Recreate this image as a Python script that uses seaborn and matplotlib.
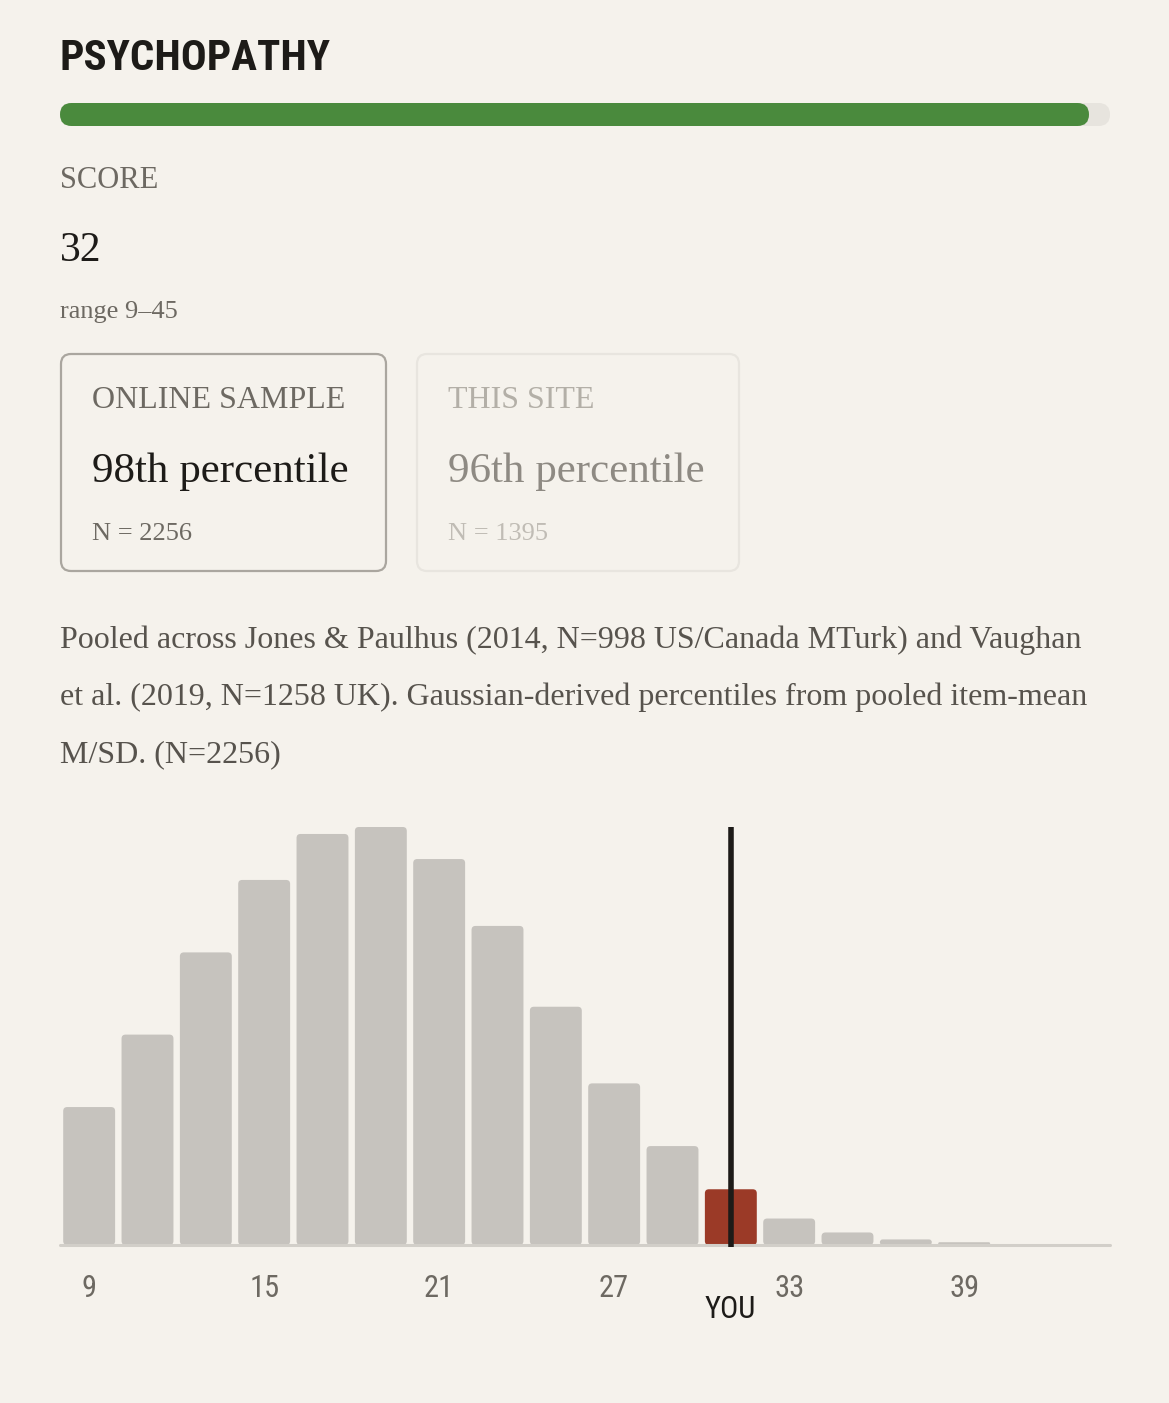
import pandas as pd
import matplotlib
matplotlib.use("Agg")
import matplotlib.pyplot as plt
import seaborn as sns
from matplotlib import font_manager
from matplotlib.patches import FancyBboxPatch


# data
bin_starts = [9, 11, 13, 15, 17, 19, 21, 23, 25, 27, 29, 31, 33, 35, 37, 39, 41, 43]
counts = [99, 151, 210, 262, 295, 300, 277, 229, 171, 116, 71, 40, 19, 9, 4, 2, 0, 0]
tick_values = [9, 15, 21, 27, 33, 39]
user_score = 32
user_bin = 31
percentile_online = 98
percentile_site = 96
n_online = 2256
n_site = 1395
paragraph = [
    "Pooled across Jones & Paulhus (2014, N=998 US/Canada MTurk) and Vaughan",
    "et al. (2019, N=1258 UK). Gaussian-derived percentiles from pooled item-mean",
    "M/SD. (N=2256)",
]

BG = "#f5f2ec"
INK = "#1d1b18"
MUTED = "#6d6962"
BAR = "#c6c3be"
RED = "#9b3a27"
GREEN = "#4a8a3d"

sns.set_theme(style="white")

# pick a narrow sans for the condensed headings if one is around
names = {f.name for f in font_manager.fontManager.ttflist}
cond_family = "DejaVu Sans"
for cand in ["Liberation Sans Narrow", "Roboto Condensed", "Open Sans Condensed", "DejaVu Sans"]:
    if cand in names:
        cond_family = cand
        break
COND = dict(family=cond_family, stretch="condensed")
SERIF = dict(family="Liberation Serif")

plt.rcParams["font.family"] = ["Liberation Serif", "DejaVu Sans"]


#---------------------------------------------------------------------------------------------
fig = plt.figure(figsize=(11.69, 14.03), dpi=100, facecolor=BG)

# pixel-space overlay for the card parts
ov = fig.add_axes([0, 0, 1, 1])
ov.set_xlim(0, 1169)
ov.set_ylim(1403, 0)
ov.axis("off")
ov.set_facecolor(BG)

ov.text(60, 70, "PSYCHOPATHY", fontsize=31, fontweight="bold", color=INK, va="baseline", **COND)

ov.add_patch(FancyBboxPatch((60, 103), 1050, 23, boxstyle="round,pad=0,rounding_size=11.5",
                            fc="#e7e4de", ec="none"))
ov.add_patch(FancyBboxPatch((60, 103), 1050 * percentile_online / 100, 23,
                            boxstyle="round,pad=0,rounding_size=11.5", fc=GREEN, ec="none"))

ov.text(60, 188, "SCORE", fontsize=22, color=MUTED, va="baseline", **SERIF)
ov.text(60, 261, str(user_score), fontsize=30, color=INK, va="baseline", **SERIF)
ov.text(60, 318, "range 9\u201345", fontsize=19, color=MUTED, va="baseline", **SERIF)

# percentile boxes
ov.add_patch(FancyBboxPatch((61, 354), 325, 217, boxstyle="round,pad=0,rounding_size=10",
                            fc="none", ec="#aaa69f", lw=1.6))
ov.add_patch(FancyBboxPatch((417, 354), 322, 217, boxstyle="round,pad=0,rounding_size=10",
                            fc="none", ec="#e8e5df", lw=1.6))

ov.text(92, 408, "ONLINE SAMPLE", fontsize=23, color=MUTED, va="baseline", **SERIF)
ov.text(92, 482, f"{percentile_online}th percentile", fontsize=31, color=INK, va="baseline", **SERIF)
ov.text(92, 540, f"N = {n_online}", fontsize=19, color=MUTED, va="baseline", **SERIF)

ov.text(448, 408, "THIS SITE", fontsize=23, color="#b3afa7", va="baseline", **SERIF)
ov.text(448, 482, f"{percentile_site}th percentile", fontsize=31, color="#8e8a83", va="baseline", **SERIF)
ov.text(448, 540, f"N = {n_site}", fontsize=19, color="#c0bcb5", va="baseline", **SERIF)

for i, line in enumerate(paragraph):
    ov.text(60, 648 + 57 * i, line, fontsize=23, color="#57534d", va="baseline", **SERIF)


#---------------------------------------------------------------------------------------------
# histogram
ax = fig.add_axes([60 / 1169, (1403 - 1245) / 1403, 1050 / 1169, 418 / 1403])
ax.patch.set_alpha(0)

df = pd.DataFrame({"bin": [str(b) for b in bin_starts], "count": counts})
palette = {str(b): (RED if b == user_bin else BAR) for b in bin_starts}
sns.barplot(data=df, x="bin", y="count", hue="bin", palette=palette, saturation=1,
            width=0.89, legend=False, ax=ax, edgecolor="none", linewidth=0)

ax.set_xlim(-0.5, len(bin_starts) - 0.5)
ax.set_ylim(0, max(counts))

# swap the square bars for ones with softly rounded tops
px_x = 1050 / len(bin_starts)
px_y = 418 / max(counts)
for bar in list(ax.patches):
    x, y = bar.get_x(), bar.get_y()
    w, h = bar.get_width(), bar.get_height()
    if h <= 0:
        bar.remove()
        continue
    r = min(4 / px_x, h * px_y / 2 / px_x)
    ax.add_patch(FancyBboxPatch((x, y), w, h, boxstyle=f"round,pad=0,rounding_size={r}",
                                mutation_aspect=px_x / px_y, fc=bar.get_facecolor(),
                                ec="none", zorder=2))
    bar.remove()

ax.axhline(0, color="#d2cfc9", lw=2.2, zorder=3, clip_on=False)

you_pos = bin_starts.index(user_bin)
ax.plot([you_pos, you_pos], [-1.5, max(counts)], color=INK, lw=4, zorder=4,
        solid_capstyle="butt", clip_on=False)

ax.set_xticks([bin_starts.index(t) for t in tick_values])
ax.set_xticklabels([str(t) for t in tick_values], fontsize=22, color=MUTED, **COND)
ax.tick_params(axis="x", length=0, pad=21)
ax.set_yticks([])
ax.set_xlabel("")
ax.set_ylabel("")
sns.despine(ax=ax, left=True, bottom=True)

ov.text(730, 1318, "YOU", fontsize=22, color=INK, ha="center", va="baseline", **COND)

fig.savefig("out.png", dpi=100, facecolor=BG)
